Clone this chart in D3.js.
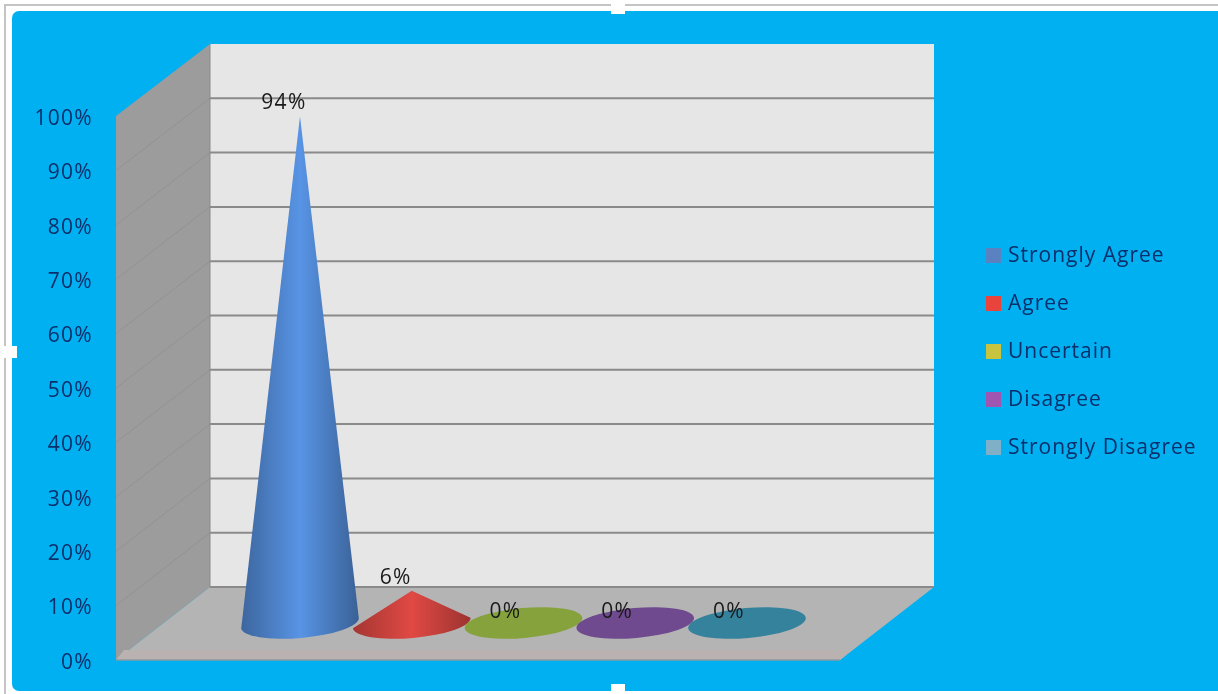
<!DOCTYPE html>
<html><head><meta charset="utf-8">
<style>html,body{margin:0;padding:0;background:#fff}svg{display:block;filter:blur(0.55px)}</style>
<script src="https://cdn.jsdelivr.net/npm/d3@7/dist/d3.min.js"></script>
</head><body><svg id="c" width="1218" height="694"></svg>
<script>
const categories = ["Strongly Agree","Agree","Uncertain","Disagree","Strongly Disagree"];
const values = [94,6,0,0,0];
const tickValues = [0,10,20,30,40,50,60,70,80,90,100];
const coneColors = ["#4a7cc0","#c9423d","#86a23c","#6f4a8e","#35829c"];
const coneHighlights = [0.5,0.3,0,0,0];
const legendColors = ["#5a82c0","#e8443c","#c8c440","#a055b0","#7fb0c8"];

const svg = d3.select("#c");
const font = "'Open Sans', Lato, sans-serif";
const textBlue = "#0b2f6b";

// frame
svg.append("path").attr("d","M5 694V5H1218").attr("fill","none").attr("stroke","#c4c4c4").attr("stroke-width",2);
svg.append("rect").attr("x",12).attr("y",11).attr("width",1215).attr("height",680).attr("rx",7).attr("fill","#00b0f0");

const yFront = d3.scaleLinear().domain([0,100]).range([660,116]);
const yBack = d3.scaleLinear().domain([0,100]).range([587,44]);
const yCone = d3.scaleLinear().domain([0,100]).range([623,84]);
const xBack = 210, xFront = 116, xBackR = 934, xFrontR = 840;
const xCat = d3.scalePoint().domain(categories).range([300,747]);

// walls
svg.append("path").attr("d",`M${xFront} ${yFront(100)}L${xBack} ${yBack(100)}V${yBack(0)}L${xFront} ${yFront(0)}Z`).attr("fill","#9c9c9c");
svg.append("rect").attr("x",xBack).attr("y",yBack(100)).attr("width",xBackR-xBack).attr("height",yBack(0)-yBack(100)).attr("fill","#e6e6e6");
svg.append("path").attr("d",`M${xFront} ${yFront(0)}L${xBack} ${yBack(0)}H${xBackR}L${xFrontR} ${yFront(0)}Z`).attr("fill","#b4b4b4");
svg.append("path").attr("d",`M${xFront+8} ${yFront(0)-10}H${xFrontR+12}L${xFrontR} ${yFront(0)}H${xFront}Z`).attr("fill","#bab2b0");
svg.append("line").attr("x1",xFront).attr("x2",xFrontR).attr("y1",yFront(0)).attr("y2",yFront(0)).attr("stroke","#8d9aa0").attr("stroke-width",1.5);

// gridlines
const gridTicks = tickValues.filter(d=>d>0&&d<100);
svg.append("g").selectAll("line").data(tickValues.filter(d=>d<100)).join("line")
  .attr("x1",xBack).attr("x2",xBackR).attr("y1",d=>yBack(d)).attr("y2",d=>yBack(d))
  .attr("stroke","#8a8a8a").attr("stroke-width",2);
svg.append("g").selectAll("line").data(gridTicks).join("line")
  .attr("x1",xFront).attr("x2",xBack).attr("y1",d=>yFront(d)).attr("y2",d=>yBack(d))
  .attr("stroke","#929292").attr("stroke-width",1);
svg.append("line").attr("x1",xBack).attr("x2",xBack).attr("y1",yBack(100)).attr("y2",yBack(0)).attr("stroke","#8a8a8a").attr("stroke-width",1);

// axis
const axis = d3.axisLeft(yFront).tickValues(tickValues).tickFormat(d=>d+"%").tickSize(0).tickPadding(0);
const ax = svg.append("g").attr("transform","translate(93,1.5)").call(axis);
ax.select(".domain").remove();
ax.selectAll("text").attr("font-family",font).attr("font-size",21).attr("letter-spacing",1.3).attr("fill",textBlue);

// cones
const defs = svg.append("defs");
categories.forEach((c,i)=>{
  const g = defs.append("linearGradient").attr("id","g"+i).attr("x1",0).attr("x2",1).attr("y1",0).attr("y2",0);
  const col = d3.color(coneColors[i]);
  g.append("stop").attr("offset","0%").attr("stop-color",col.darker(0.55));
  g.append("stop").attr("offset","50%").attr("stop-color",col.brighter(coneHighlights[i]));
  g.append("stop").attr("offset","100%").attr("stop-color",col.darker(0.7));
});
const rx = 59, ry = 15, tiltDeg = -5, tilt = tiltDeg*Math.PI/180;
const cx = Math.cos(tilt), sn = Math.sin(tilt);
const base = yCone(0);
svg.append("g").selectAll("path").data(categories.map((c,i)=>({c,i,v:values[i]}))).join("path")
  .attr("d",d=>{
    const x = xCat(d.c);
    const lx = x-rx*cx, ly = base-rx*sn, rX = x+rx*cx, rY = base+rx*sn;
    if(d.v===0) return `M${lx} ${ly}A${rx} ${ry} ${tiltDeg} 1 0 ${rX} ${rY}A${rx} ${ry} ${tiltDeg} 1 0 ${lx} ${ly}Z`;
    return `M${lx} ${ly}L${x} ${yCone(d.v)}L${rX} ${rY}A${rx} ${ry} ${tiltDeg} 1 1 ${lx} ${ly}Z`;
  })
  .attr("fill",d=>d.v===0?coneColors[d.i]:`url(#g${d.i})`);

// labels
svg.append("g").selectAll("text").data(categories.map((c,i)=>({c,v:values[i]}))).join("text")
  .attr("x",d=>d.v===0?xCat(d.c)-18:xCat(d.c)-16)
  .attr("y",d=>d.v===0?yCone(0)-5:yCone(d.v)-7)
  .attr("text-anchor","middle").attr("font-family",font).attr("font-size",21).attr("letter-spacing",1.4).attr("fill","#1a1a1a")
  .text(d=>d.v+"%");

// legend
const yLeg = d3.scalePoint().domain(categories).range([255,447]);
const leg = svg.append("g").selectAll("g").data(categories).join("g").attr("transform",d=>`translate(986,${yLeg(d)})`);
leg.append("rect").attr("x",0).attr("y",-7).attr("width",15).attr("height",15).attr("fill",(d,i)=>legendColors[i]);
leg.append("text").attr("x",22).attr("y",7).attr("font-family",font).attr("font-size",21).attr("letter-spacing",1).attr("fill",textBlue).text(d=>d);

// selection handles
const handles = [[618,8],[10,352],[618,690]];
svg.append("g").selectAll("rect").data(handles).join("rect")
  .attr("x",d=>d[0]-7).attr("y",d=>d[1]-6).attr("width",14).attr("height",12).attr("fill","#fff");
</script></body></html>
